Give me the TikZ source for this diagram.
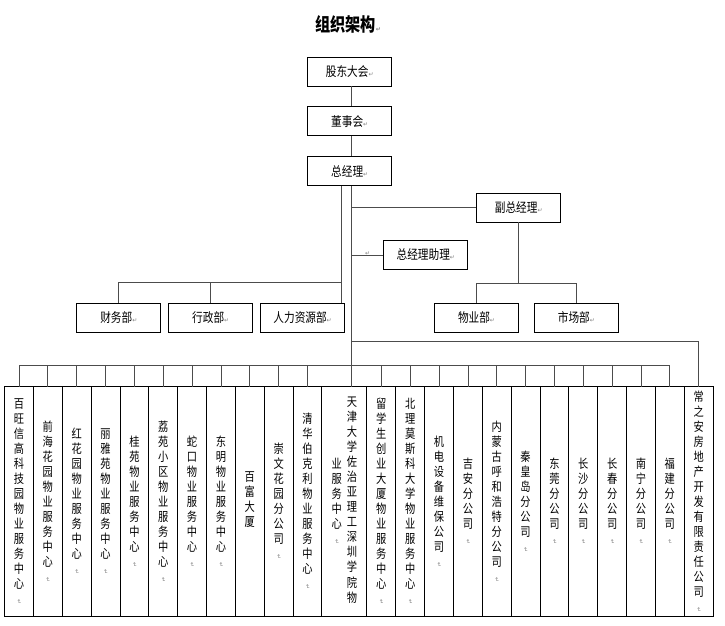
\documentclass[tikz,border=0pt]{standalone}
\usepackage{fontspec}
\setmainfont{Noto Sans CJK SC}[FakeStretch=0.82]
\newfontfamily\symfont{DejaVu Sans}
\usepackage{graphicx}
\usepackage{tikz}
\usetikzlibrary{positioning}

\newcommand\retmark{{\symfont\fontsize{6}{6}\selectfont\color{black!50}↵}}
\newcommand\retv{\rotatebox{-90}{\retmark}}

% vertical text: one character per row
\makeatletter
\def\vst@mark{\retv}
\newcommand\vstack[1]{%
  \def\vst@list{}%
  \@tfor\vst@ch:=#1\do{%
    \ifx\vst@list\@empty
      \edef\vst@list{\unexpanded\expandafter{\vst@ch}}%
    \else
      \ifx\vst@ch\vst@mark
        \edef\vst@list{\unexpanded\expandafter{\vst@list}\noexpand\\[-4pt]\unexpanded\expandafter{\vst@ch}}%
      \else
        \edef\vst@list{\unexpanded\expandafter{\vst@list}\noexpand\\\unexpanded\expandafter{\vst@ch}}%
      \fi
    \fi}%
  \begin{tabular}{@{}c@{}}\vst@list\end{tabular}}
\makeatother

\begin{document}
\begin{tikzpicture}[
    x=1pt, y=-1pt,
    node distance=20pt,
    line/.style={draw=black!70, line width=0.8pt},
    box/.style={draw, line width=0.9pt, minimum width=84pt, minimum height=29pt, inner sep=1pt, font=\fontsize{13}{15}\selectfont},
    unit/.style={draw, line width=0.9pt, outer sep=0pt, minimum width=28.85pt, minimum height=229.3pt, inner xsep=1pt, inner ysep=2pt, font=\fontsize{12.5}{15}\selectfont},
    title/.style={font=\bfseries\fontsize{18.5}{20}\selectfont},
]
\useasboundingbox (0,0) rectangle (725,626);

\node[title] (title) at (348,24) {组织架构\retmark};

\node[box] (gd) at (349.7,71.5) {股东大会\retmark};
\node[box] (dsh) [below=of gd] {董事会\retmark};
\node[box] (zjl) [below=of dsh] {总经理\retmark};
\node[box] (fzjl) at (518.7,207.5) {副总经理\retmark};
\node[box] (zlzl) at (425.8,255) {总经理助理\retmark};
\node (zlmark) at (367.7,254) {\retmark};

\node[box] (cwb) at (118.8,317.8) {财务部\retmark};
\node[box] (xzb) [right=7pt of cwb] {行政部\retmark};
\node[box] (rlzy) [right=7pt of xzb] {人力资源部\retmark};
\node[box] (wyb) at (476.5,317.8) {物业部\retmark};
\node[box] (scb) [right=15pt of wyb] {市场部\retmark};

\node[unit] (u1) at (19,501.35) {\vstack{百旺信高科技园物业服务中心{\retv}}};
\node[unit] (u2) [right=0pt of u1] {\vstack{前海花园物业服务中心{\retv}}};
\node[unit] (u3) [right=0pt of u2] {\vstack{红花园物业服务中心{\retv}}};
\node[unit] (u4) [right=0pt of u3] {\vstack{丽雅苑物业服务中心{\retv}}};
\node[unit] (u5) [right=0pt of u4] {\vstack{桂苑物业服务中心{\retv}}};
\node[unit] (u6) [right=0pt of u5] {\vstack{荔苑小区物业服务中心{\retv}}};
\node[unit] (u7) [right=0pt of u6] {\vstack{蛇口物业服务中心{\retv}}};
\node[unit] (u8) [right=0pt of u7] {\vstack{东明物业服务中心{\retv}}};
\node[unit] (u9) [right=0pt of u8] {\vstack{百富大厦}};
\node[unit] (u10) [right=0pt of u9] {\vstack{崇文花园分公司{\retv}}};
\node[unit] (u11) [right=0pt of u10] {\vstack{清华伯克利物业服务中心{\retv}}};
\node[unit, minimum width=45pt] (u12) [right=0pt of u11] {\vstack{业服务中心{\retv}}\hspace{5pt}\vstack{天津大学佐治亚理工深圳学院物}\hspace{6pt}};
\node[unit] (u13) [right=0pt of u12] {\vstack{留学生创业大厦物业服务中心{\retv}}};
\node[unit] (u14) [right=0pt of u13] {\vstack{北理莫斯科大学物业服务中心{\retv}}};
\node[unit] (u15) [right=0pt of u14] {\vstack{机电设备维保公司{\retv}}};
\node[unit] (u16) [right=0pt of u15] {\vstack{吉安分公司{\retv}}};
\node[unit] (u17) [right=0pt of u16] {\vstack{内蒙古呼和浩特分公司{\retv}}};
\node[unit] (u18) [right=0pt of u17] {\vstack{秦皇岛分公司{\retv}}};
\node[unit] (u19) [right=0pt of u18] {\vstack{东莞分公司{\retv}}};
\node[unit] (u20) [right=0pt of u19] {\vstack{长沙分公司{\retv}}};
\node[unit] (u21) [right=0pt of u20] {\vstack{长春分公司{\retv}}};
\node[unit] (u22) [right=0pt of u21] {\vstack{南宁分公司{\retv}}};
\node[unit] (u23) [right=0pt of u22] {\vstack{福建分公司{\retv}}};
\node[unit] (u24) [right=0pt of u23] {\vstack{常之安房地产开发有限责任公司{\retv}}};

\coordinate (trunk) at (351.5,0);
\coordinate (ltrunk) at (341.7,0);
\coordinate (lbus) at (0,282.6);
\coordinate (rbus) at (0,283.3);
\coordinate (cbus) at (0,341.7);
\coordinate (bus) at (0,365);

\draw[line] (gd.south -| trunk) -- (dsh.north -| trunk);
\draw[line] (dsh.south -| trunk) -- (zjl.north -| trunk);
\draw[line] (zjl.south -| trunk) -- (u12.north -| trunk);
\draw[line] (zjl.south -| ltrunk) -- (rlzy.north -| ltrunk);
\draw[line] (fzjl.west) -- (fzjl.west -| trunk);
\draw[line] (zlzl.west) -- (zlzl.west -| trunk);

\draw[line] (cwb.north) |- (lbus -| ltrunk);
\draw[line] (xzb.north) -- (xzb.north |- lbus);
\draw[line] (fzjl.south) -- (fzjl.south |- rbus);
\draw[line] (wyb.north) |- (rbus -| scb.north) -- (scb.north);

\draw[line] (u1.north) |- (bus -| u23.north) -- (u23.north);
\draw[line] (u2.north) -- (u2.north |- bus);
\draw[line] (u3.north) -- (u3.north |- bus);
\draw[line] (u4.north) -- (u4.north |- bus);
\draw[line] (u5.north) -- (u5.north |- bus);
\draw[line] (u6.north) -- (u6.north |- bus);
\draw[line] (u7.north) -- (u7.north |- bus);
\draw[line] (u8.north) -- (u8.north |- bus);
\draw[line] (u9.north) -- (u9.north |- bus);
\draw[line] (u10.north) -- (u10.north |- bus);
\draw[line] (u11.north) -- (u11.north |- bus);
\draw[line] (u13.north) -- (u13.north |- bus);
\draw[line] (u14.north) -- (u14.north |- bus);
\draw[line] (u15.north) -- (u15.north |- bus);
\draw[line] (u16.north) -- (u16.north |- bus);
\draw[line] (u17.north) -- (u17.north |- bus);
\draw[line] (u18.north) -- (u18.north |- bus);
\draw[line] (u19.north) -- (u19.north |- bus);
\draw[line] (u20.north) -- (u20.north |- bus);
\draw[line] (u21.north) -- (u21.north |- bus);
\draw[line] (u22.north) -- (u22.north |- bus);
\draw[line] (u24.north) |- (cbus -| trunk);

\end{tikzpicture}
\end{document}
